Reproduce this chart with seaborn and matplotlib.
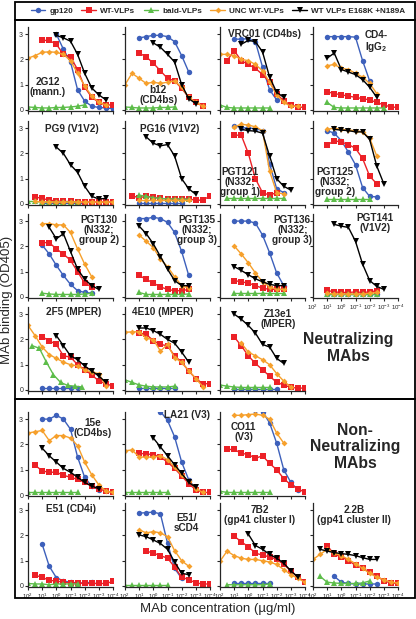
import pandas as pd
import matplotlib
matplotlib.use("Agg")
import matplotlib.pyplot as plt
from matplotlib.lines import Line2D
from matplotlib.patches import Rectangle
from matplotlib.ticker import LogLocator, NullLocator
import seaborn as sns

# half-log dilution series: each value list starts at 10**start ug/ml
STEP = 0.5

series_names = ["gp120", "WT-VLPs", "bald-VLPs", "UNC WT-VLPs", "WT VLPs E168K +N189A"]
series_colors = ["#3d60bb", "#ec2127", "#5dbd4a", "#f6a02c", "#000000"]
series_markers = ["o", "s", "^", "D", "v"]
marker_sizes = [3.9, 3.9, 3.9, 3.0, 4.0]

# series -> (log10 of first concentration, OD405 values)
p_2g12 = {
    "gp120": (0.0, [3.0, 2.4, 1.9, 0.8, 0.35, 0.15, 0.1, 0.08, 0.05]),
    "WT-VLPs": (1.0, [2.75, 2.75, 2.6, 2.2, 2.1, 1.6, 0.9, 0.5, 0.3, 0.2, 0.2]),
    "bald-VLPs": (2.0, [0.12, 0.1, 0.08, 0.08, 0.1, 0.1, 0.12, 0.15, 0.2]),
    "UNC WT-VLPs": (2.0, [2.05, 2.15, 2.28, 2.3, 2.28, 2.2, 1.95, 1.45, 0.95, 0.55, 0.3, 0.2]),
    "WT VLPs E168K +N189A": (0.0, [2.95, 2.85, 2.72, 2.2, 1.45, 0.87, 0.6, 0.4]),
}
p_b12 = {
    "gp120": (1.0, [2.85, 2.9, 2.95, 2.95, 2.9, 2.7, 2.15, 1.5]),
    "WT-VLPs": (1.0, [2.25, 2.1, 1.85, 1.55, 1.25, 1.15, 0.85, 0.5, 0.3, 0.15]),
    "bald-VLPs": (2.0, [0.12, 0.1, 0.08, 0.08, 0.08, 0.1, 0.1, 0.12]),
    "UNC WT-VLPs": (2.0, [1.0, 1.45, 1.25, 1.05, 1.1, 1.05, 1.1, 1.15, 0.9, 0.5, 0.3, 0.15]),
    "WT VLPs E168K +N189A": (0.0, [2.65, 2.48, 2.2, 1.9, 1.0, 0.45, 0.25]),
}
p_vrc01 = {
    "gp120": (1.0, [2.8, 2.8, 2.82, 2.7, 1.7, 0.8, 0.4]),
    "WT-VLPs": (1.5, [1.95, 2.35, 1.95, 1.8, 1.65, 1.4, 1.1, 0.65, 0.35, 0.2, 0.12, 0.1]),
    "bald-VLPs": (2.0, [0.2, 0.1, 0.08, 0.08, 0.08, 0.08, 0.08, 0.08]),
    "UNC WT-VLPs": (2.0, [2.2, 2.2, 2.15, 2.0, 1.95, 1.8, 1.55, 1.1, 0.6, 0.3, 0.15, 0.15]),
    "WT VLPs E168K +N189A": (0.5, [2.6, 2.75, 2.7, 2.3, 1.3, 0.7, 0.5]),
}
p_cd4igg2 = {
    "gp120": (1.0, [2.9, 2.9, 2.9, 2.9, 2.88, 1.95, 1.15]),
    "WT-VLPs": (1.0, [0.72, 0.65, 0.6, 0.55, 0.5, 0.45, 0.4, 0.3, 0.2, 0.12, 0.1]),
    "bald-VLPs": (1.0, [0.3, 0.1, 0.08, 0.08, 0.08, 0.08, 0.08, 0.08, 0.08]),
    "UNC WT-VLPs": (1.0, [1.75, 1.8, 1.65, 1.6, 1.45, 1.3, 1.05, 0.65]),
    "WT VLPs E168K +N189A": (1.0, [2.05, 2.25, 1.6, 1.5, 1.4, 1.2, 0.9, 0.5]),
}
p_pg9 = {
    "gp120": (1.0, [0.05, 0.05, 0.05, 0.05, 0.05, 0.05, 0.05]),
    "WT-VLPs": (1.5, [0.28, 0.22, 0.15, 0.12, 0.1, 0.1, 0.08, 0.08, 0.08, 0.08, 0.08, 0.08]),
    "bald-VLPs": (2.0, [0.1, 0.1, 0.08, 0.08, 0.08, 0.08, 0.08, 0.08]),
    "UNC WT-VLPs": (1.5, [0.1, 0.08, 0.08, 0.08, 0.08, 0.08, 0.08, 0.08, 0.08, 0.08, 0.08, 0.08]),
    "WT VLPs E168K +N189A": (0.0, [2.25, 2.0, 1.55, 1.25, 0.7, 0.3, 0.2, 0.22]),
}
p_pg16 = {
    "gp120": (1.0, [0.05, 0.05, 0.05, 0.05, 0.05, 0.05, 0.05]),
    "WT-VLPs": (1.5, [0.32, 0.25, 0.3, 0.28, 0.22, 0.2, 0.2, 0.2, 0.2, 0.15, 0.15, 0.32]),
    "bald-VLPs": (1.0, [0.35, 0.3, 0.25, 0.22, 0.2, 0.2, 0.2, 0.18]),
    "UNC WT-VLPs": (1.0, [0.15, 0.15, 0.15, 0.15, 0.15, 0.15, 0.15, 0.15]),
    "WT VLPs E168K +N189A": (0.5, [2.65, 2.4, 2.3, 2.35, 1.9, 1.0, 0.6, 0.38]),
}
p_pgt121 = {
    "gp120": (1.0, [3.1, 3.02, 3.0, 2.98, 2.9, 1.6, 0.6, 0.45]),
    "WT-VLPs": (1.0, [2.72, 2.72, 2.0, 1.0, 0.45, 0.35, 0.45]),
    "bald-VLPs": (1.5, [0.22, 0.22, 0.22, 0.22, 0.22, 0.22, 0.22, 0.22, 0.22]),
    "UNC WT-VLPs": (1.0, [3.05, 3.15, 3.12, 3.05, 2.9, 1.3, 0.45, 0.4]),
    "WT VLPs E168K +N189A": (0.5, [2.95, 2.9, 2.88, 2.8, 1.9, 1.0, 0.7, 0.55]),
}
p_pgt125 = {
    "gp120": (1.0, [2.9, 2.8, 2.5, 2.05, 1.55, 0.65, 0.3, 0.28]),
    "WT-VLPs": (1.0, [2.33, 2.5, 2.45, 2.35, 2.2, 1.8, 1.1, 0.8]),
    "bald-VLPs": (1.0, [0.2, 0.2, 0.2, 0.2, 0.2, 0.2, 0.2]),
    "UNC WT-VLPs": (1.0, [2.95, 3.0, 2.95, 2.92, 2.9, 2.85, 2.6, 1.9]),
    "WT VLPs E168K +N189A": (0.5, [2.95, 2.92, 2.9, 2.85, 2.85, 2.55, 1.5, 0.8]),
}
p_pgt130 = {
    "gp120": (1.0, [2.05, 1.7, 1.25, 0.85, 0.5, 0.25, 0.18, 0.15]),
    "WT-VLPs": (1.0, [2.15, 2.15, 1.9, 1.7, 1.45, 1.0, 0.55, 0.4]),
    "bald-VLPs": (1.0, [0.15, 0.12, 0.1, 0.1, 0.1, 0.1, 0.12, 0.15]),
    "UNC WT-VLPs": (1.0, [2.9, 2.9, 2.85, 2.85, 2.55, 1.9, 1.3, 0.8]),
    "WT VLPs E168K +N189A": (0.5, [2.75, 2.3, 2.5, 1.8, 1.1, 0.7, 0.45, 0.3]),
}
p_pgt135 = {
    "gp120": (1.0, [3.1, 3.1, 3.15, 3.1, 2.95, 2.55, 1.8, 0.85]),
    "WT-VLPs": (1.0, [0.85, 0.7, 0.55, 0.4, 0.3, 0.25, 0.25, 0.3]),
    "bald-VLPs": (1.0, [0.18, 0.1, 0.1, 0.1, 0.1, 0.1, 0.1, 0.12]),
    "UNC WT-VLPs": (1.0, [2.45, 2.2, 1.95, 1.5, 1.2, 0.8, 0.45, 0.35]),
    "WT VLPs E168K +N189A": (1.0, [2.8, 2.5, 2.1, 1.6, 1.1, 0.65, 0.45, 0.45]),
}
p_pgt136 = {
    "gp120": (1.0, [3.0, 3.0, 3.0, 2.92, 2.45, 1.75, 0.95, 0.45]),
    "WT-VLPs": (1.0, [0.65, 0.6, 0.55, 0.45, 0.35, 0.3, 0.3, 0.3]),
    "bald-VLPs": (1.0, [0.15, 0.15, 0.15, 0.15, 0.15, 0.15, 0.15, 0.15]),
    "UNC WT-VLPs": (1.0, [2.02, 1.7, 1.35, 0.95, 0.6, 0.4, 0.3, 0.3]),
    "WT VLPs E168K +N189A": (1.0, [1.2, 1.05, 0.88, 0.72, 0.6, 0.5, 0.45, 0.45]),
}
p_pgt141 = {
    "gp120": (1.0, [0.1, 0.1, 0.1, 0.1, 0.1, 0.1, 0.1, 0.1]),
    "WT-VLPs": (1.0, [0.26, 0.2, 0.18, 0.18, 0.2, 0.18, 0.2, 0.25]),
    "bald-VLPs": (1.0, [0.1, 0.1, 0.1, 0.1, 0.1, 0.1, 0.1, 0.1]),
    "UNC WT-VLPs": (1.0, [0.15, 0.12, 0.12, 0.12, 0.12, 0.12, 0.15, 0.18]),
    "WT VLPs E168K +N189A": (0.5, [2.87, 2.8, 2.75, 2.2, 1.3, 0.65, 0.42, 0.3]),
}
p_2f5 = {
    "gp120": (1.0, [0.08, 0.08, 0.08, 0.08, 0.08, 0.08]),
    "WT-VLPs": (1.0, [2.1, 1.95, 1.8, 1.35, 1.3, 1.0, 0.8, 0.6, 0.35, 0.25, 0.15]),
    "bald-VLPs": (1.7, [1.75, 1.65, 1.1, 0.6, 0.3, 0.18, 0.15, 0.12]),
    "UNC WT-VLPs": (2.0, [2.55, 2.15, 1.7, 1.4, 1.25, 1.1, 1.0, 0.95, 0.8, 0.7, 0.65, 0.15]),
    "WT VLPs E168K +N189A": (0.0, [2.15, 1.75, 1.35, 1.2, 0.95, 0.75, 0.55, 0.3]),
}
p_4e10 = {
    "gp120": (1.0, [0.07, 0.07, 0.07, 0.07, 0.07, 0.07]),
    "WT-VLPs": (1.0, [2.25, 2.2, 1.95, 1.8, 1.75, 1.35, 1.1, 0.75, 0.45, 0.25, 0.25]),
    "bald-VLPs": (2.0, [0.4, 0.3, 0.2, 0.15, 0.12, 0.12, 0.12, 0.15]),
    "UNC WT-VLPs": (2.0, [2.28, 2.3, 2.3, 2.05, 1.99, 1.54, 1.8, 1.28, 1.09, 0.77, 0.45, 0.13]),
    "WT VLPs E168K +N189A": (1.0, [2.45, 2.45, 2.35, 2.2, 2.0, 1.85, 1.5, 1.1]),
}
p_z13e1 = {
    "gp120": (1.0, [0.05, 0.05, 0.05, 0.05, 0.05, 0.05, 0.05]),
    "WT-VLPs": (1.0, [2.1, 1.75, 1.35, 1.05, 0.8, 0.55, 0.3, 0.2, 0.1, 0.08, 0.07]),
    "bald-VLPs": (2.0, [0.2, 0.15, 0.12, 0.1, 0.1, 0.1, 0.1, 0.1]),
    "UNC WT-VLPs": (0.5, [1.85, 1.5, 1.35, 1.2, 1.0, 0.65, 0.35, 0.12]),
    "WT VLPs E168K +N189A": (1.0, [3.0, 2.8, 2.55, 2.25, 1.8, 1.7, 1.25, 1.05]),
}
p_15e = {
    "gp120": (1.0, [3.0, 3.0, 3.15, 3.0, 2.6, 1.5, 0.7, 0.35, 0.2]),
    "WT-VLPs": (1.5, [1.18, 0.95, 0.9, 0.9, 0.78, 0.7, 0.62, 0.5, 0.35, 0.25, 0.15, 0.1]),
    "bald-VLPs": (2.0, [0.1, 0.1, 0.1, 0.1, 0.1, 0.1, 0.1, 0.1]),
    "UNC WT-VLPs": (2.0, [2.45, 2.5, 2.55, 2.15, 2.35, 2.35, 2.25, 1.95, 1.3, 0.8, 0.4, 0.15, 0.1]),
    "WT VLPs E168K +N189A": (1.0, [1.85, 1.55, 1.3, 1.05, 0.9, 0.7, 0.5, 0.35, 0.25]),
}
p_la21 = {
    "gp120": (-0.5, [3.3, 2.95, 2.3, 1.3, 0.6, 0.25]),
    "WT-VLPs": (1.0, [1.65, 1.62, 1.6, 1.5, 1.3, 1.05, 0.75, 0.45, 0.2, 0.1, 0.1]),
    "bald-VLPs": (2.0, [0.1, 0.1, 0.1, 0.1, 0.1, 0.1, 0.1]),
    "UNC WT-VLPs": (2.0, [1.75, 1.78, 1.5, 1.5, 1.5, 1.55, 1.4, 1.1, 0.8, 0.55, 0.25, 0.1]),
    "WT VLPs E168K +N189A": (0.0, [2.25, 1.9, 1.55, 1.2, 0.85, 0.5, 0.3]),
}
p_co11 = {
    "gp120": (-0.5, [3.35, 3.3, 2.85, 2.05, 1.0, 0.5, 0.2]),
    "WT-VLPs": (1.5, [1.8, 1.8, 1.65, 1.6, 1.45, 1.55, 1.25, 1.0, 0.65, 0.4, 0.25, 0.1]),
    "bald-VLPs": (2.0, [0.15, 0.1, 0.1, 0.1, 0.1, 0.1, 0.1, 0.1]),
    "UNC WT-VLPs": (1.0, [3.15, 3.15, 3.18, 3.2, 3.15, 3.0, 2.45, 2.05]),
}
p_e51 = {
    "gp120": (1.0, [1.65, 0.78, 0.33, 0.2, 0.15, 0.12, 0.12, 0.15]),
    "WT-VLPs": (1.5, [0.42, 0.35, 0.22, 0.2, 0.15, 0.12, 0.12, 0.1, 0.1, 0.1, 0.1, 0.18]),
    "bald-VLPs": (2.0, [0.1, 0.08, 0.08, 0.05, 0.08, 0.08, 0.08, 0.08]),
}
p_e51scd4 = {
    "gp120": (1.0, [2.88, 2.9, 2.92, 2.85, 1.7, 0.7, 0.3]),
    "WT-VLPs": (0.5, [1.38, 1.3, 1.2, 1.1, 0.75, 0.35, 0.25, 0.12, 0.08, 0.08]),
    "bald-VLPs": (2.0, [0.05, 0.05, 0.05, 0.05, 0.05, 0.05, 0.05]),
    "UNC WT-VLPs": (1.0, [2.22, 2.1, 2.15, 2.1, 1.95, 1.4, 1.0, 0.78]),
    "WT VLPs E168K +N189A": (1.0, [2.02, 1.95, 1.82, 1.68, 1.45, 0.95, 0.5, 0.45]),
}
p_7b2 = {
    "gp120": (1.0, [0.1, 0.1, 0.1, 0.1, 0.1, 0.1]),
    "WT-VLPs": (1.0, [1.97, 1.75, 1.55, 1.3, 1.22, 1.15, 1.05, 0.85, 0.6, 0.35, 0.15]),
    "bald-VLPs": (1.5, [0.05, 0.05, 0.05, 0.05, 0.05, 0.05, 0.08]),
    "UNC WT-VLPs": (2.0, [0.98, 1.38, 1.2, 1.1, 1.05, 1.05, 1.0, 0.95, 0.85, 0.65, 0.45, 0.3, 0.15]),
    "WT VLPs E168K +N189A": (0.0, [2.05, 1.6, 1.45, 1.25, 1.1, 0.9, 0.6, 0.35]),
}
p_22b = {
    "gp120": (0.5, [0.38, 0.15, 0.1, 0.08, 0.08, 0.08, 0.08]),
    "WT-VLPs": (1.0, [1.6, 1.25, 1.15, 1.0, 0.82, 0.7, 0.55, 0.4, 0.2, 0.12, 0.1]),
    "bald-VLPs": (1.5, [0.38, 0.15, 0.12, 0.1, 0.1, 0.1, 0.12, 0.2]),
    "UNC WT-VLPs": (2.0, [1.05, 1.25, 1.45, 1.3, 1.2, 1.05, 0.88, 0.7, 0.5, 0.35, 0.25, 0.15, 0.12]),
    "WT VLPs E168K +N189A": (1.5, [1.45, 1.38, 1.32, 1.28, 1.25, 1.2, 1.12, 1.05, 1.05]),
}

# (row, col, data, label, label x, label y in axes fraction)
panels = [
    (0, 0, p_2g12, "2G12\n(mann.)", 0.23, 0.29),
    (0, 1, p_b12, "b12\n(CD4bs)", 0.39, 0.19),
    (0, 2, p_vrc01, "VRC01 (CD4bs)", 0.52, 0.91),
    (0, 3, p_cd4igg2, "CD4-\nIgG$_\\mathbf{2}$", 0.74, 0.82),
    (1, 0, p_pg9, "PG9 (V1V2)", 0.52, 0.9),
    (1, 1, p_pg16, "PG16 (V1V2)", 0.52, 0.9),
    (1, 2, p_pgt121, "PGT121\n(N332;\ngroup 1)", 0.23, 0.28),
    (1, 3, p_pgt125, "PGT125\n(N332;\ngroup 2)", 0.26, 0.28),
    (2, 0, p_pgt130, "PGT130\n(N332;\ngroup 2)", 0.835, 0.81),
    (2, 1, p_pgt135, "PGT135\n(N332;\ngroup 3)", 0.85, 0.81),
    (2, 2, p_pgt136, "PGT136\n(N332;\ngroup 3)", 0.85, 0.81),
    (2, 3, p_pgt141, "PGT141\n(V1V2)", 0.73, 0.885),
    (3, 0, p_2f5, "2F5 (MPER)", 0.54, 0.94),
    (3, 1, p_4e10, "4E10 (MPER)", 0.44, 0.94),
    (3, 2, p_z13e1, "Z13e1\n(MPER)", 0.68, 0.85),
    (4, 0, p_15e, "15e\n(CD4bs)", 0.76, 0.8),
    (4, 1, p_la21, "LA21 (V3)", 0.73, 0.96),
    (4, 2, p_co11, "CO11\n(V3)", 0.28, 0.76),
    (5, 0, p_e51, "E51 (CD4i)", 0.51, 0.92),
    (5, 1, p_e51scd4, "E51/\nsCD4", 0.72, 0.755),
    (5, 2, p_7b2, "7B2\n(gp41 cluster I)", 0.47, 0.855),
    (5, 3, p_22b, "2.2B\n(gp41 cluster II)", 0.48, 0.855),
]

sns.set_style("ticks")
plt.rcParams["font.family"] = ["Liberation Sans", "DejaVu Sans"]
plt.rcParams["mathtext.fontset"] = "custom"
plt.rcParams["mathtext.rm"] = "Liberation Sans"
plt.rcParams["mathtext.bf"] = "Liberation Sans:bold"

W, H = 416, 619
fig = plt.figure(figsize=(W / 100, H / 100), dpi=100)

col_left = [28, 125, 220, 313]
row_zero = [110, 204, 297, 390, 495, 586]
PW = 85
UNIT = 25.3
YLIM = (-0.05, 3.3)

for row, col, data, label, lx, ly in panels:
    top = row_zero[row] - YLIM[1] * UNIT
    bottom = row_zero[row] - YLIM[0] * UNIT
    ax = fig.add_axes([col_left[col] / W, 1 - bottom / H, PW / W, (bottom - top) / H])
    ax.set_xscale("log")
    for name, color, marker, ms in zip(series_names, series_colors, series_markers, marker_sizes):
        if name not in data:
            continue
        start, vals = data[name]
        conc = [10 ** (start - STEP * i) for i in range(len(vals))]
        sns.lineplot(x=conc, y=vals, ax=ax, color=color, marker=marker, markersize=ms,
                     markeredgewidth=0, linewidth=1.0, estimator=None, sort=True)
    ax.set_xlim(1e2, 1e-4)
    ax.set_ylim(*YLIM)
    ax.xaxis.set_major_locator(LogLocator(base=10, numticks=10))
    ax.xaxis.set_minor_locator(NullLocator())
    ax.set_yticks([0, 1, 2, 3])
    ax.set_xlabel("")
    ax.set_ylabel("")
    show_x = row == 5 or (row == 2 and col == 3)
    ax.tick_params(axis="both", length=2.5, width=0.8, labelsize=5, pad=1,
                   labelbottom=show_x, labelleft=(col == 0))
    ax.tick_params(axis="x", labelsize=4.4)
    sns.despine(ax=ax)
    for side in ["left", "bottom"]:
        ax.spines[side].set_linewidth(0.9)
    ax.text(lx, ly, label, transform=ax.transAxes, ha="center", va="center",
            fontsize=7.2, fontweight="bold", linespacing=1.0)

# section boxes
for y_top, y_bot in [(2, 20), (20, 399), (399, 598)]:
    fig.add_artist(Rectangle((15 / W, 1 - y_bot / H), 400 / W, (y_bot - y_top) / H,
                             transform=fig.transFigure, fill=False, lw=1.3, ec="black"))

fig.text(348 / W, 1 - 348 / H, "Neutralizing\nMAbs", ha="center", va="center",
         fontsize=11.3, fontweight="bold", linespacing=1.1)
fig.text(355 / W, 1 - 447 / H, "Non-\nNeutralizing\nMAbs", ha="center", va="center",
         fontsize=11.3, fontweight="bold", linespacing=1.1)

handles = [Line2D([0], [0], color=c, marker=m, markersize=ms, markeredgewidth=0, lw=1.0)
           for c, m, ms in zip(series_colors, series_markers, marker_sizes)]
fig.legend(handles, series_names, loc="center", bbox_to_anchor=(218 / W, 1 - 11.5 / H),
           ncol=5, frameon=False, prop={"size": 5.9, "weight": "bold"},
           handlelength=1.8, handletextpad=0.5, columnspacing=1.0, borderaxespad=0)

fig.text(7 / W, 1 - 300 / H, "MAb binding (OD405)", rotation=90, ha="center", va="center", fontsize=9.5)
fig.text(218 / W, 1 - 609 / H, "MAb concentration (\u00b5g/ml)", ha="center", va="center", fontsize=9.5)

fig.savefig("out.png", dpi=100)
